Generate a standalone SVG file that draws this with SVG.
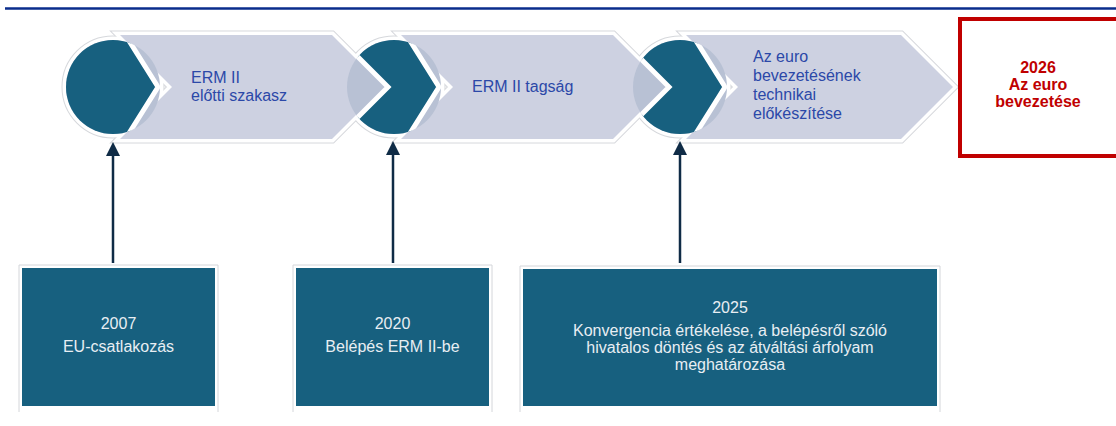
<svg xmlns="http://www.w3.org/2000/svg" width="1116" height="426" viewBox="0 0 1116 426">
<style>
.halo-g{fill:none;stroke:#d6d8dc;stroke-width:9;stroke-linejoin:miter}
.halo-w{fill:#fff;stroke:#fff;stroke-width:7;stroke-linejoin:miter}
.chev{fill:#cdd1e1}
.lc{fill:#b8c1d4}
.teal{fill:#17607f;stroke:#fff;stroke-width:5;stroke-linejoin:miter}
.ct{font-family:"Liberation Sans",Arial,sans-serif;font-size:16px;fill:#2b48a8}
.bx{fill:#17607f}
.frame{fill:none;stroke:#d4d6da;stroke-width:1}
.bt{font-family:"Liberation Sans",Arial,sans-serif;font-size:16px;fill:#e8eef3;text-anchor:middle}
.rt{font-family:"Liberation Sans",Arial,sans-serif;font-size:16px;font-weight:bold;fill:#c00000;text-anchor:middle}
.conn{stroke:#0f2b46;stroke-width:2.5;fill:none}
</style>
<defs>
<marker id="ah" viewBox="0 0 14 14" refX="0" refY="7" markerWidth="14" markerHeight="14" markerUnits="userSpaceOnUse" orient="auto">
<path d="M0,0 L14,7 L0,14 z" fill="#0f2b46"/>
</marker>
<clipPath id="c1"><circle cx="113" cy="87" r="47"/></clipPath>
<clipPath id="c2"><circle cx="394" cy="87" r="47"/></clipPath>
<clipPath id="c3"><circle cx="680" cy="87" r="47"/></clipPath>
</defs>
<rect width="1116" height="426" fill="#fff"/>
<line x1="5" y1="8.5" x2="1116" y2="8.5" stroke="#0a2d8c" stroke-width="2.5"/>

<g id="halos">
<polygon class="halo-g" points="120,35 332,35 384,87 332,139 120,139 172,87"/>
<polygon class="halo-g" points="401,35 613,35 665,87 613,139 401,139 453,87"/>
<polygon class="halo-g" points="686,35 901,35 953,87 901,139 686,139 738,87"/>
<circle class="halo-g" cx="113" cy="87" r="47"/>
<circle class="halo-g" cx="394" cy="87" r="47"/>
<circle class="halo-g" cx="680" cy="87" r="47"/>
<polygon class="halo-w" points="120,35 332,35 384,87 332,139 120,139 172,87"/>
<polygon class="halo-w" points="401,35 613,35 665,87 613,139 401,139 453,87"/>
<polygon class="halo-w" points="686,35 901,35 953,87 901,139 686,139 738,87"/>
<circle class="halo-w" cx="113" cy="87" r="47"/>
<circle class="halo-w" cx="394" cy="87" r="47"/>
<circle class="halo-w" cx="680" cy="87" r="47"/>
</g>

<g id="phase1">
<polygon class="chev" points="120,35 332,35 384,87 332,139 120,139 172,87"/>
<circle class="lc" cx="113" cy="87" r="47"/>
<g clip-path="url(#c1)"><polygon class="teal" points="50,20 116,20 158,87 116,154 50,154"/></g>
<text class="ct" x="191" y="83">ERM II</text>
<text class="ct" x="191" y="101">előtti szakasz</text>
</g>

<g id="phase2">
<polygon class="chev" points="401,35 613,35 665,87 613,139 401,139 453,87"/>
<circle class="lc" cx="394" cy="87" r="47"/>
<g clip-path="url(#c2)"><polygon class="teal" points="321,20 397,20 439,87 397,154 321,154 388,87"/></g>
<text class="ct" x="472" y="92">ERM II tagság</text>
</g>

<g id="phase3">
<polygon class="chev" points="686,35 901,35 953,87 901,139 686,139 738,87"/>
<circle class="lc" cx="680" cy="87" r="47"/>
<g clip-path="url(#c3)"><polygon class="teal" points="602,20 683,20 725,87 683,154 602,154 669,87"/></g>
<text class="ct" x="753" y="62">Az euro</text>
<text class="ct" x="753" y="81">bevezetésének</text>
<text class="ct" x="753" y="100">technikai</text>
<text class="ct" x="753" y="119">előkészítése</text>
</g>

<g id="euro2026">
<rect x="960" y="19" width="170" height="137" fill="#fff" stroke="#c00000" stroke-width="4"/>
<text class="rt" x="1038" y="73">2026</text>
<text class="rt" x="1038" y="90">Az euro</text>
<text class="rt" x="1038" y="107">bevezetése</text>
</g>

<g id="event2007">
<path class="frame" d="M19,412 V265 H218 V412"/>
<rect class="bx" x="22" y="268" width="193" height="138"/>
<text class="bt" x="118.5" y="329">2007</text>
<text class="bt" x="118.5" y="352">EU-csatlakozás</text>
</g>

<g id="event2020">
<path class="frame" d="M293,412 V265 H492 V412"/>
<rect class="bx" x="296" y="268" width="193" height="138"/>
<text class="bt" x="392.5" y="329">2020</text>
<text class="bt" x="392.5" y="352">Belépés ERM II-be</text>
</g>

<g id="event2025">
<path class="frame" d="M520,412 V266 H940 V412"/>
<rect class="bx" x="523" y="269" width="414" height="137"/>
<text class="bt" x="730" y="313">2025</text>
<text class="bt" x="730" y="336">Konvergencia értékelése, a belépésről szóló</text>
<text class="bt" x="730" y="353">hivatalos döntés és az átváltási árfolyam</text>
<text class="bt" x="730" y="370">meghatározása</text>
</g>

<g id="connectors">
<line class="conn" x1="113" y1="263" x2="113" y2="156" marker-end="url(#ah)"/>
<line class="conn" x1="393" y1="263" x2="393" y2="155" marker-end="url(#ah)"/>
<line class="conn" x1="680" y1="263" x2="680" y2="155" marker-end="url(#ah)"/>
</g>
</svg>
